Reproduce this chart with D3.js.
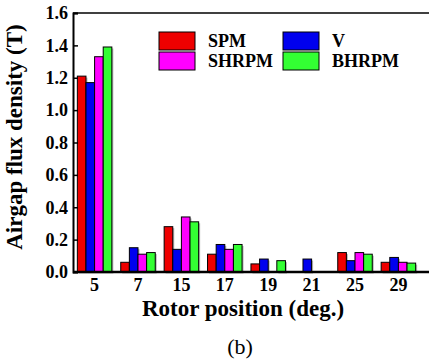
<!DOCTYPE html>
<html>
<head>
<meta charset="utf-8">
<script src="https://cdn.jsdelivr.net/npm/d3@7"></script>
<style>
  body { margin: 0; background: #fff; }
  svg { display: block; }
  svg text { font-family: 'Liberation Serif', 'Times New Roman', serif; }
</style>
</head>
<body>
<svg id="chart"></svg>
<script>
// rotor positions (deg.)
const positions = ['5', '7', '15', '17', '19', '21', '25', '29'];
const seriesNames = ['SPM', 'V', 'SHRPM', 'BHRPM'];
const seriesColors = ['#ee0000', '#0000ee', '#ff00ff', '#33ff33'];

// airgap flux density (T)
const spm   = [1.21, 0.06, 0.28, 0.11, 0.05, 0,    0.12, 0.06];
const v     = [1.17, 0.15, 0.14, 0.17, 0.08, 0.08, 0.07, 0.09];
const shrpm = [1.33, 0.11, 0.34, 0.14, 0,    0,    0.12, 0.06];
const bhrpm = [1.39, 0.12, 0.31, 0.17, 0.07, 0,    0.11, 0.055];

const yTicks = [0, 0.2, 0.4, 0.6, 0.8, 1.0, 1.2, 1.4, 1.6];

const width = 429;
const height = 359;
const margin = { top: 13, right: 9, bottom: 87, left: 73 };

const svg = d3.select('#chart')
  .attr('width', width)
  .attr('height', height);

const values = [spm, v, shrpm, bhrpm];
const data = positions.map((p, i) => ({
  pos: p,
  vals: seriesNames.map((s, k) => ({ key: s, value: values[k][i], color: seriesColors[k] }))
}));

const x0 = d3.scaleBand()
  .domain(positions)
  .range([margin.left, width - margin.right])
  .paddingInner(0.205)
  .paddingOuter(0.1);

const x1 = d3.scaleBand()
  .domain(seriesNames)
  .range([0, x0.bandwidth()]);

const y = d3.scaleLinear()
  .domain([0, 1.6])
  .range([height - margin.bottom, margin.top]);

// bars with a soft grey shadow
const groups = svg.append('g')
  .selectAll('g')
  .data(data)
  .join('g')
  .attr('transform', d => `translate(${x0(d.pos)},0)`);

groups.selectAll('rect.shadow')
  .data(d => d.vals.filter(e => e.value > 0))
  .join('rect')
  .attr('class', 'shadow')
  .attr('x', d => x1(d.key) + 1.5)
  .attr('y', d => y(d.value) + 1.5)
  .attr('width', x1.bandwidth())
  .attr('height', d => y(0) - y(d.value))
  .attr('fill', '#999')
  .attr('opacity', 0.7);

groups.selectAll('rect.bar')
  .data(d => d.vals.filter(e => e.value > 0))
  .join('rect')
  .attr('class', 'bar')
  .attr('x', d => x1(d.key))
  .attr('y', d => y(d.value))
  .attr('width', x1.bandwidth())
  .attr('height', d => y(0) - y(d.value))
  .attr('fill', d => d.color)
  .attr('stroke', '#000')
  .attr('stroke-width', 1);

// frame: top line, left axis, bottom axis
svg.append('line')
  .attr('x1', margin.left).attr('x2', width)
  .attr('y1', margin.top).attr('y2', margin.top)
  .attr('stroke', '#000').attr('stroke-width', 1.5);

const yAxis = svg.append('g')
  .attr('transform', `translate(${margin.left},0)`)
  .call(d3.axisLeft(y).tickValues(yTicks).tickFormat(d3.format('.1f')).tickSize(-5).tickPadding(5));
yAxis.attr('font-family', null);
yAxis.select('.domain').attr('stroke-width', 2);
yAxis.selectAll('.tick line').attr('stroke-width', 1.5);
yAxis.selectAll('text')
  .style('font-weight', 'bold')
  .style('font-size', '18px')
  .attr('fill', '#000');

const xAxis = svg.append('g')
  .attr('transform', `translate(0,${y(0)})`)
  .call(d3.axisBottom(x0).tickSize(0).tickPadding(6).tickSizeOuter(0));
xAxis.attr('font-family', null);
xAxis.select('.domain')
  .attr('d', `M${margin.left},0H${width}`)
  .attr('stroke-width', 2.5);
xAxis.selectAll('text')
  .style('font-weight', 'bold')
  .style('font-size', '18px')
  .attr('fill', '#000');

// axis titles
svg.append('text')
  .attr('transform', 'translate(22,137) rotate(-90)')
  .attr('text-anchor', 'middle')
  .style('font-weight', 'bold')
  .style('font-size', '23px')
  .text('Airgap flux density (T)');

svg.append('text')
  .attr('x', 243)
  .attr('y', 316)
  .attr('text-anchor', 'middle')
  .style('font-weight', 'bold')
  .style('font-size', '23px')
  .text('Rotor position (deg.)');

svg.append('text')
  .attr('x', 240)
  .attr('y', 354)
  .attr('text-anchor', 'middle')
  .style('font-size', '22px')
  .text('(b)');

// legend, two columns
const legendPos = [[159, 32], [283, 32], [159, 52], [283, 52]];
const legendOrder = ['SPM', 'V', 'SHRPM', 'BHRPM'];
const legend = svg.append('g')
  .selectAll('g')
  .data(legendOrder)
  .join('g')
  .attr('transform', (d, i) => `translate(${legendPos[i][0]},${legendPos[i][1]})`);

legend.append('rect')
  .attr('width', 36)
  .attr('height', 18)
  .attr('fill', d => seriesColors[seriesNames.indexOf(d)])
  .attr('stroke', '#000')
  .attr('stroke-width', 1);

legend.append('text')
  .attr('x', 49)
  .attr('y', 15)
  .style('font-weight', 'bold')
  .style('font-size', '18px')
  .text(d => d);
</script>
</body>
</html>
